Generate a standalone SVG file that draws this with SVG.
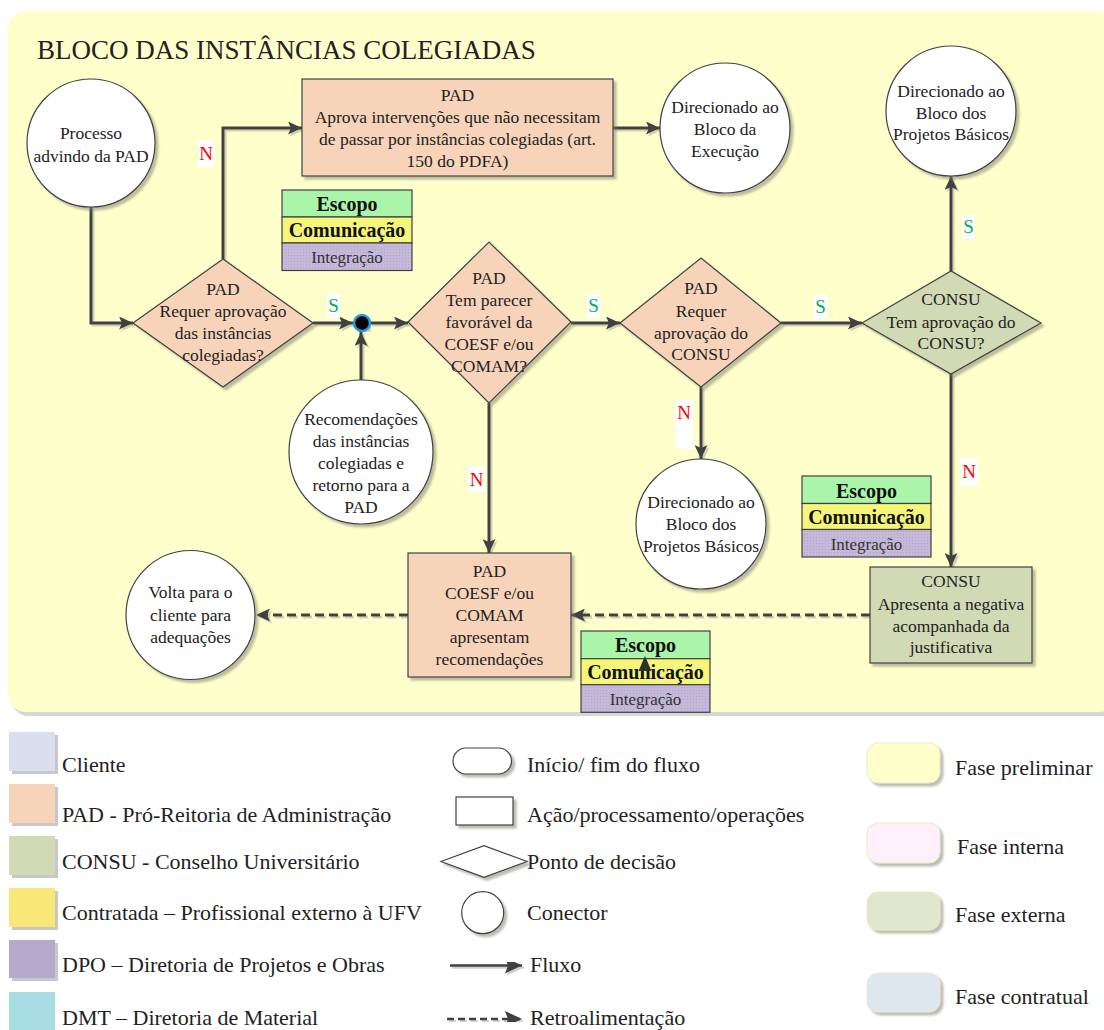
<svg xmlns="http://www.w3.org/2000/svg" width="1104" height="1030" viewBox="0 0 1104 1030">
<defs>
<style>
text { font-family: "Liberation Serif", "Times New Roman", serif; fill: #222; }
.t { font-size: 17.5px; text-anchor: middle; }
.title { font-size: 27px; }
.lg { font-size: 22px; }
.pad { fill: #F7D4B9; stroke: #404040; stroke-width: 1.2; }
.consu { fill: #D2D9B5; stroke: #404040; stroke-width: 1.2; }
.circ { fill: #FFFFFF; stroke: #404040; stroke-width: 1.2; }
.flow { fill: none; stroke: #404040; stroke-width: 3; }
.dash { fill: none; stroke: #404040; stroke-width: 3; stroke-dasharray: 9 5; }
.lbg { fill: #FFFFFF; }
.S { fill: #00B050; font-size: 19px; text-anchor: middle; }
.N { fill: #FF0000; font-size: 19px; text-anchor: middle; }
.esc { fill: #AAF5AA; stroke: #404040; stroke-width: 1.2; }
.com { fill: #F5F57A; stroke: #404040; stroke-width: 1.2; }
.int { fill: url(#dots); stroke: #404040; stroke-width: 1.2; }
.eb { font-size: 20px; font-weight: bold; text-anchor: middle; fill: #111; }
.en { font-size: 17px; text-anchor: middle; fill: #333; }
.sq { stroke: none; }
.fase { stroke: #EEE8C0; stroke-width: 1; }
.lgs { fill: #FFFFFF; stroke: #404040; stroke-width: 1.2; }
.lflow { fill: none; stroke: #404040; stroke-width: 2.5; }
</style>
<pattern id="dots" width="3" height="3" patternUnits="userSpaceOnUse">
<rect width="3" height="3" fill="#C4B9D8"/>
<rect width="1" height="1" fill="#B0A5C8"/>
</pattern>
<filter id="sh" x="-10%" y="-10%" width="130%" height="130%">
<feDropShadow dx="3" dy="3" stdDeviation="1" flood-color="#7a7a6a" flood-opacity="0.5"/>
</filter>
<filter id="lsh" x="-5%" y="-5%" width="110%" height="110%">
<feDropShadow dx="2" dy="2" stdDeviation="0.4" flood-color="#9a9a8a" flood-opacity="0.45"/>
</filter>
<marker id="ah" viewBox="0 0 14 13" refX="14" refY="6.5" markerWidth="14" markerHeight="13" markerUnits="userSpaceOnUse" orient="auto">
<path d="M0,0 L14,6.5 L0,13 L3,6.5 z" fill="#404040"/>
</marker>
<marker id="ah2" viewBox="0 0 17 16" refX="17" refY="8" markerWidth="17" markerHeight="16" markerUnits="userSpaceOnUse" orient="auto">
<path d="M0,0 L17,8 L0,16 L3,8 z" fill="#404040"/>
</marker>
</defs>

<!-- background panel -->
<g id="panel">
<rect x="11" y="15" width="1110" height="701" rx="18" fill="#D6D6D6"/>
<rect x="8" y="11" width="1110" height="701" rx="18" fill="#FFFFCC"/>
<text class="title" x="37" y="59">BLOCO DAS INSTÂNCIAS COLEGIADAS</text>
</g>

<!-- connectors -->
<g id="connectors" filter="url(#lsh)">
<path class="flow" d="M91,207 V323 H133" marker-end="url(#ah)"/>
<path class="flow" d="M223,259 V128 H302" marker-end="url(#ah)"/>
<path class="flow" d="M613,128 H660" marker-end="url(#ah)"/>
<path class="flow" d="M313,323 H353" marker-end="url(#ah)"/>
<path class="flow" d="M370,323 H408" marker-end="url(#ah)"/>
<path class="flow" d="M361,380 V332" marker-end="url(#ah)"/>
<path class="flow" d="M571,323 H620" marker-end="url(#ah)"/>
<path class="flow" d="M781,323 H862" marker-end="url(#ah)"/>
<path class="flow" d="M951,271 V176" marker-end="url(#ah)"/>
<path class="flow" d="M701,387 V459" marker-end="url(#ah)"/>
<path class="flow" d="M489,403 V553" marker-end="url(#ah)"/>
<path class="flow" d="M951,374 V567" marker-end="url(#ah)"/>
<path class="dash" d="M870,615 H571" marker-end="url(#ah)"/>
<path class="dash" d="M408,615 H256" marker-end="url(#ah)"/>
</g>

<!-- labels on connectors -->
<g id="labels">
<rect class="lbg" x="198" y="140" width="16" height="27"/>
<text class="N" x="206" y="160">N</text>
<rect class="lbg" x="327" y="294" width="13" height="24"/>
<text class="S" x="333.5" y="312">S</text>
<rect class="lbg" x="587" y="294" width="13" height="24"/>
<text class="S" x="593.5" y="312">S</text>
<rect class="lbg" x="814" y="295" width="13" height="24"/>
<text class="S" x="820.5" y="313">S</text>
<rect class="lbg" x="962" y="215" width="13" height="24"/>
<text class="S" x="968.5" y="233">S</text>
<rect class="lbg" x="675" y="400" width="18" height="49"/>
<text class="N" x="684" y="419">N</text>
<rect class="lbg" x="468" y="466" width="17" height="26"/>
<text class="N" x="476.5" y="486">N</text>
<rect class="lbg" x="960" y="458" width="18" height="28"/>
<text class="N" x="969" y="478">N</text>
</g>

<!-- nodes -->
<g id="n-processo">
<circle class="circ" cx="91" cy="143" r="64" filter="url(#sh)"/>
<text class="t" x="91" y="139">Processo</text>
<text class="t" x="91" y="161.5">advindo da PAD</text>
</g>

<g id="n-aprova">
<rect class="pad" x="302" y="79" width="311" height="97" filter="url(#sh)"/>
<text class="t" x="457.5" y="101">PAD</text>
<text class="t" x="457.5" y="123">Aprova intervenções que não necessitam</text>
<text class="t" x="457.5" y="145">de passar por instâncias colegiadas (art.</text>
<text class="t" x="457.5" y="167">150 do PDFA)</text>
</g>

<g id="n-execucao">
<circle class="circ" cx="725" cy="128" r="65" filter="url(#sh)"/>
<text class="t" x="725" y="113">Direcionado ao</text>
<text class="t" x="725" y="135">Bloco da</text>
<text class="t" x="725" y="157">Execução</text>
</g>

<g id="n-basicos1">
<circle class="circ" cx="951" cy="111" r="65" filter="url(#sh)"/>
<text class="t" x="951" y="97">Direcionado ao</text>
<text class="t" x="951" y="118.5">Bloco dos</text>
<text class="t" x="951" y="140">Projetos Básicos</text>
</g>

<g id="n-areas1">
<rect class="esc" x="282" y="190" width="130" height="27"/>
<rect class="com" x="282" y="217" width="130" height="26"/>
<rect class="int" x="282" y="243" width="130" height="27.5"/>
<text class="eb" x="347" y="211">Escopo</text>
<text class="eb" x="347" y="237">Comunicação</text>
<text class="en" x="347" y="263">Integração</text>
</g>

<g id="n-requer">
<polygon class="pad" points="133,323 223,259 313,323 223,387" filter="url(#sh)"/>
<text class="t" x="223" y="295">PAD</text>
<text class="t" x="223" y="317">Requer aprovação</text>
<text class="t" x="223" y="339">das instâncias</text>
<text class="t" x="223" y="360.5">colegiadas?</text>
</g>

<g id="n-juncao">
<circle cx="362" cy="323" r="8" fill="#000" stroke="#1EA0E0" stroke-width="2.5" filter="url(#lsh)"/>
</g>

<g id="n-parecer">
<polygon class="pad" points="408,322 489,242 571,322 489,403" filter="url(#sh)"/>
<text class="t" x="489" y="283.5">PAD</text>
<text class="t" x="489" y="305.5">Tem parecer</text>
<text class="t" x="489" y="327.5">favorável da</text>
<text class="t" x="489" y="349.5">COESF e/ou</text>
<text class="t" x="489" y="371.5">COMAM?</text>
</g>

<g id="n-requer-consu">
<polygon class="pad" points="620,323 701,258 781,323 701,387" filter="url(#sh)"/>
<text class="t" x="701" y="294">PAD</text>
<text class="t" x="701" y="316.5">Requer</text>
<text class="t" x="701" y="338.5">aprovação do</text>
<text class="t" x="701" y="360">CONSU</text>
</g>

<g id="n-consu-aprov">
<polygon class="consu" points="862,323 951,271 1041,323 951,374" filter="url(#sh)"/>
<text class="t" x="951" y="305">CONSU</text>
<text class="t" x="951" y="327.5">Tem aprovação do</text>
<text class="t" x="951" y="349">CONSU?</text>
</g>

<g id="n-recomendacoes">
<circle class="circ" cx="361" cy="452" r="72" filter="url(#sh)"/>
<text class="t" x="361" y="424.5">Recomendações</text>
<text class="t" x="361" y="446.7">das instâncias</text>
<text class="t" x="361" y="468.7">colegiadas e</text>
<text class="t" x="361" y="491">retorno para a</text>
<text class="t" x="361" y="513">PAD</text>
</g>

<g id="n-basicos2">
<circle class="circ" cx="701" cy="524" r="65" filter="url(#sh)"/>
<text class="t" x="701" y="507.7">Direcionado ao</text>
<text class="t" x="701" y="530">Bloco dos</text>
<text class="t" x="701" y="552">Projetos Básicos</text>
</g>

<g id="n-areas2">
<rect class="esc" x="802" y="476" width="129" height="27.5"/>
<rect class="com" x="802" y="503.5" width="129" height="26"/>
<rect class="int" x="802" y="529.5" width="129" height="27.5"/>
<text class="eb" x="866.5" y="497.5">Escopo</text>
<text class="eb" x="866.5" y="523.5">Comunicação</text>
<text class="en" x="866.5" y="549.5">Integração</text>
</g>

<g id="n-consu-negativa">
<rect class="consu" x="870" y="567" width="162" height="96" filter="url(#sh)"/>
<text class="t" x="951" y="587.3">CONSU</text>
<text class="t" x="951" y="610">Apresenta a negativa</text>
<text class="t" x="951" y="631.7">acompanhada da</text>
<text class="t" x="951" y="653.3">justificativa</text>
</g>

<g id="n-pad-recomend">
<rect class="pad" x="408" y="553" width="163" height="124" filter="url(#sh)"/>
<text class="t" x="489.5" y="576.7">PAD</text>
<text class="t" x="489.5" y="598.5">COESF e/ou</text>
<text class="t" x="489.5" y="620.5">COMAM</text>
<text class="t" x="489.5" y="643">apresentam</text>
<text class="t" x="489.5" y="665">recomendações</text>
</g>

<g id="n-volta">
<circle class="circ" cx="190.5" cy="615" r="64.5" filter="url(#sh)"/>
<text class="t" x="190.5" y="598.3">Volta para o</text>
<text class="t" x="190.5" y="621">cliente para</text>
<text class="t" x="190.5" y="642.7">adequações</text>
</g>

<g id="n-areas3">
<rect class="esc" x="581" y="631" width="129" height="27.7"/>
<rect class="com" x="581" y="658.7" width="129" height="26"/>
<rect class="int" x="581" y="684.7" width="129" height="27.6"/>
<text class="eb" x="645.5" y="652">Escopo</text>
<text class="eb" x="645.5" y="678.5">Comunicação</text>
<text class="en" x="645.5" y="705">Integração</text>
<path d="M645,656 L651.5,671 L638.5,671 z" fill="#303030"/>
</g>

<!-- legend -->
<g id="legend-actors">
<rect x="12" y="735" width="46" height="39" fill="#C8C8C8"/>
<rect class="sq" x="9" y="732" width="46" height="39" fill="#D9DFED"/>
<rect x="12" y="787" width="46" height="39" fill="#C8C8C8"/>
<rect class="sq" x="9" y="784" width="46" height="39" fill="#F7D4B9"/>
<rect x="12" y="839" width="46" height="39" fill="#C8C8C8"/>
<rect class="sq" x="9" y="836" width="46" height="39" fill="#D2D9B5"/>
<rect x="12" y="891" width="46" height="39" fill="#C8C8C8"/>
<rect class="sq" x="9" y="888" width="46" height="39" fill="#F8E877"/>
<rect x="12" y="943" width="46" height="38" fill="#C8C8C8"/>
<rect class="sq" x="9" y="940" width="46" height="38" fill="#B5AACB"/>
<rect class="sq" x="9" y="992" width="46" height="38" fill="#A8DDE4"/>
<text class="lg" x="62" y="772">Cliente</text>
<text class="lg" x="62" y="822">PAD - Pró-Reitoria de Administração</text>
<text class="lg" x="62" y="868.5">CONSU - Conselho Universitário</text>
<text class="lg" x="62" y="920">Contratada – Profissional externo à UFV</text>
<text class="lg" x="62" y="972">DPO – Diretoria de Projetos e Obras</text>
<text class="lg" x="62" y="1025">DMT – Diretoria de Material</text>
</g>

<g id="legend-shapes">
<rect class="lgs" x="453" y="748" width="58.5" height="26" rx="13" filter="url(#sh)"/>
<rect class="lgs" x="456" y="797" width="57" height="28" filter="url(#sh)"/>
<polygon class="lgs" points="441,861.5 484,845.7 527,861.5 484,877.3" filter="url(#sh)"/>
<circle class="lgs" cx="482.7" cy="912.7" r="21" filter="url(#sh)"/>
<g filter="url(#lsh)">
<path class="lflow" d="M450,965.5 H522" marker-end="url(#ah2)"/>
<path class="lflow" d="M447,1019 H522" stroke-dasharray="7 4" marker-end="url(#ah2)"/>
</g>
<text class="lg" x="527" y="772">Início/ fim do fluxo</text>
<text class="lg" x="527" y="822">Ação/processamento/operações</text>
<text class="lg" x="527" y="868.5">Ponto de decisão</text>
<text class="lg" x="527" y="920">Conector</text>
<text class="lg" x="530" y="972">Fluxo</text>
<text class="lg" x="530" y="1025">Retroalimentação</text>
</g>

<g id="legend-phases">
<rect class="fase" x="867" y="743" width="73" height="40" rx="11" fill="#FFFFCC" filter="url(#sh)"/>
<rect class="fase" x="867" y="823" width="73" height="40" rx="11" fill="#FDF0FB" filter="url(#sh)"/>
<rect class="fase" x="867" y="892" width="73" height="38" rx="11" fill="#E1E6CF" filter="url(#sh)"/>
<rect class="fase" x="867" y="973" width="73" height="39" rx="11" fill="#DEE7EF" filter="url(#sh)"/>
<text class="lg" x="955" y="775">Fase preliminar</text>
<text class="lg" x="957" y="853.5">Fase interna</text>
<text class="lg" x="955" y="922">Fase externa</text>
<text class="lg" x="955" y="1003.5">Fase contratual</text>
</g>
</svg>
